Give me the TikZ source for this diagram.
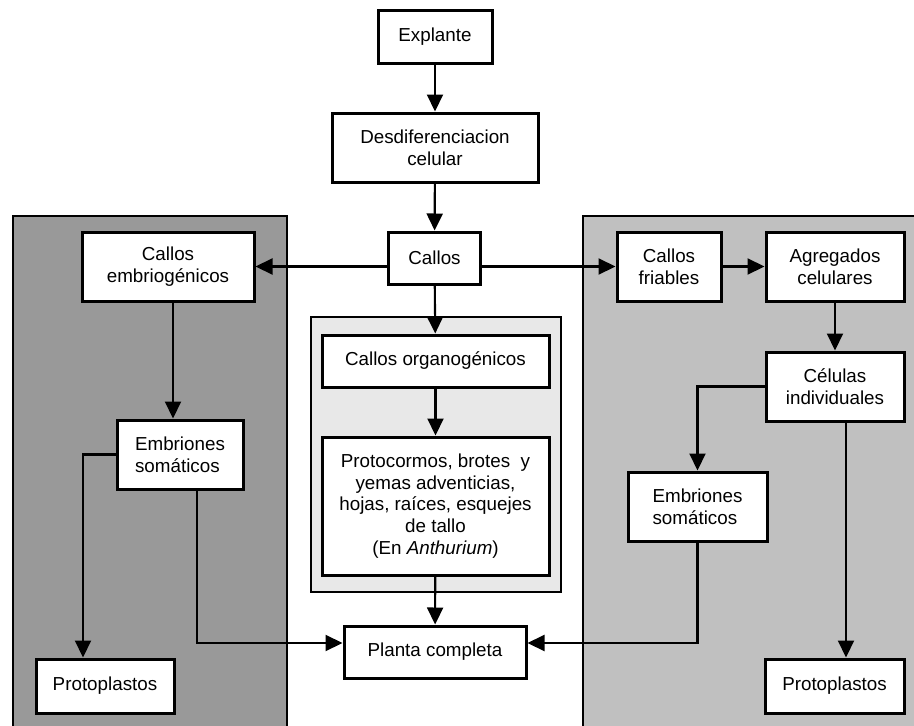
\documentclass[tikz,border=0pt]{standalone}
\usepackage{fontspec}
\setmainfont{Liberation Sans}
\usetikzlibrary{arrows.meta}
\definecolor{darkpanel}{HTML}{999999}
\definecolor{lightpanel}{HTML}{C0C0C0}
\definecolor{palepanel}{HTML}{E8E8E8}

\begin{document}
\begin{tikzpicture}[x=1pt,y=-1pt,
    box/.style={draw,line width=3pt,fill=white,align=center,inner sep=2pt,
        font=\fontsize{18.8}{21.7}\selectfont},
    arr/.style={line width=2.1pt,-{Triangle[length=17pt,width=16pt]}},
    panel/.style={draw,line width=2.8pt}]
    \useasboundingbox (0,0) rectangle (914,726);

    % background panels
    \draw[panel,fill=darkpanel] (13,216) rectangle (287,740);
    \draw[panel,fill=lightpanel] (583,216) rectangle (930,740);
    \draw[panel,fill=palepanel] (311,317) rectangle (561,592);

    \node[box,minimum width=114,minimum height=53] (explante) at (435,36.5) {Explante};
    \node[box,minimum width=206,minimum height=69] (desdif) at (435,147.5) {Desdiferenciacion\\celular};
    \node[box,minimum width=92,minimum height=52] (callos) at (434.5,258) {Callos};
    \node[box,minimum width=172,minimum height=69] (embrio) at (168,266.5) {Callos\\embriogénicos};
    \node[box,minimum width=104,minimum height=69] (friables) at (669,266.5) {Callos\\friables};
    \node[box,minimum width=138,minimum height=69] (agreg) at (835,266.5) {Agregados\\celulares};
    \node[box,minimum width=138,minimum height=69] (celulas) at (835,386.5) {Células\\individuales};
    \node[box,minimum width=227,minimum height=52] (organo) at (435.5,361) {Callos organogénicos};
    \node[box,minimum width=227,minimum height=138] (protoc) at (435.5,506)
    {Protocormos, brotes~ y\\yemas adventicias,\\hojas, raíces, esquejes\\de tallo\\(En \textit{Anthurium})};
    \node[box,minimum width=182,minimum height=52] (planta) at (435,652) {Planta completa};
    \node[box,minimum width=126,minimum height=69,align=left] (embL) at (180,454.5) {Embriones\\somáticos};
    \node[box,minimum width=139,minimum height=69,align=left] (embR) at (697.5,506.5) {Embriones\\somáticos};
    \node[box,minimum width=138,minimum height=54] (protoL) at (105,686) {Protoplastos};
    \node[box,minimum width=139,minimum height=54] (protoR) at (834.5,686) {Protoplastos};

    % main line
    \draw[arr] (explante) -- (desdif);
    \draw[arr] (desdif) -- (callos);
    \draw[arr] (callos.west |- embrio.east) -- (embrio.east);
    \draw[arr] (callos.east |- friables.west) -- (friables.west);
    \draw[arr] (callos) -- (organo);
    \draw[arr] (organo) -- (protoc);
    \draw[arr] (protoc) -- (planta);

    % left branch
    \draw[arr] ([xshift=5pt]embrio.south) -- ([xshift=5pt]embrio.south |- embL.north);
    \draw[arr] (embL.west) -| ([xshift=-22pt]protoL.north);
    \draw[arr] ([xshift=17pt]embL.south) |- ([yshift=9pt]planta.west);

    % right branch
    \draw[arr] (friables) -- (agreg);
    \draw[arr] (agreg) -- (celulas);
    \draw[arr] (celulas.west) -| (embR.north);
    \draw[arr] (embR.south) |- ([yshift=9pt]planta.east);
    \draw[arr] ([xshift=11pt]celulas.south) -- ([xshift=11pt]celulas.south |- protoR.north);
\end{tikzpicture}
\end{document}
